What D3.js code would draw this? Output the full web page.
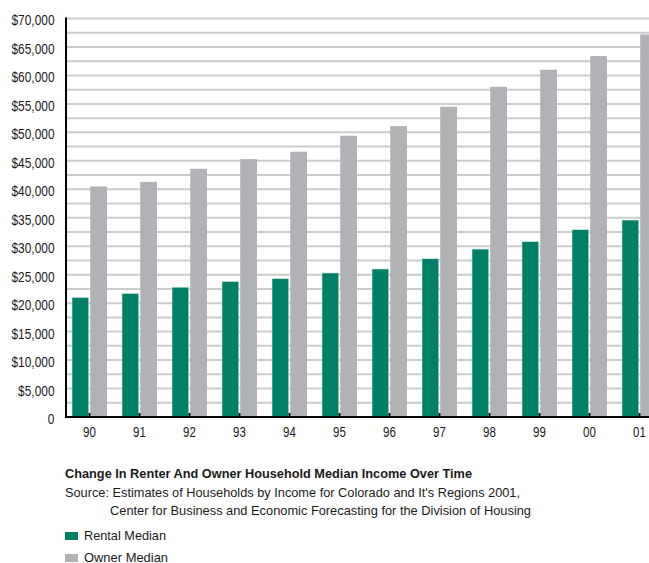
<!DOCTYPE html>
<html>
<head>
<meta charset="utf-8">
<script src="https://cdn.jsdelivr.net/npm/d3@7"></script>
<style>
  html, body { margin: 0; padding: 0; background: #fff; }
  svg { display: block; }
  text { font-family: "Liberation Sans", Arial, sans-serif; fill: #1a1a1a; }
</style>
</head>
<body>
<svg id="chart" width="649" height="563"></svg>
<script>
// Median household income, Colorado, 1990–2001
const years = ["90", "91", "92", "93", "94", "95", "96", "97", "98", "99", "00", "01"];
const rentalMedian = [21000, 21700, 22800, 23800, 24300, 25300, 26000, 27800, 29500, 30800, 32900, 34600];
const ownerMedian  = [40500, 41300, 43600, 45300, 46600, 49400, 51100, 54500, 58000, 61000, 63400, 67200];
const yTicks = [0, 5000, 10000, 15000, 20000, 25000, 30000, 35000, 40000, 45000, 50000, 55000, 60000, 65000, 70000];
const gridValues = d3.range(2500, 70001, 2500);
const seriesNames = ["Rental Median", "Owner Median"];
const seriesColors = ["#007f67", "#b1b2b6"];

const titleText = "Change In Renter And Owner Household Median Income Over Time";
const sourceLines = [
  "Source: Estimates of Households by Income for Colorado and It's Regions 2001,",
  "Center for Business and Economic Forecasting for the Division of Housing"
];

const svg = d3.select("#chart");
const W = 649;
const axisX = 66, plotTop = 18.5, base = 417;

// squeeze a text element horizontally (condensed face look)
function condense(sel, factor) {
  sel.each(function () {
    const w = this.getComputedTextLength();
    d3.select(this).attr("textLength", w * factor).attr("lengthAdjust", "spacingAndGlyphs");
  });
}
function fitWidth(sel, width) {
  sel.attr("textLength", width).attr("lengthAdjust", "spacingAndGlyphs");
}

const y = d3.scaleLinear().domain([0, 70000]).range([base, plotTop]);
const x = d3.scaleBand().domain(years).range([64.5, 664.5]).paddingInner(0.3).paddingOuter(0.15);
const xs = d3.scaleBand().domain(["rental", "owner"]).range([0, x.bandwidth()]).paddingInner(0.08);

const rows = years.map((yr, i) => ({ year: yr, rental: rentalMedian[i], owner: ownerMedian[i] }));

// horizontal grid
svg.append("g")
  .selectAll("line")
  .data(gridValues)
  .join("line")
  .attr("x1", axisX).attr("x2", W)
  .attr("y1", d => y(d)).attr("y2", d => y(d))
  .attr("stroke", "#cbcbcb")
  .attr("stroke-width", 2);

// bars
const groups = svg.append("g")
  .selectAll("g")
  .data(rows)
  .join("g")
  .attr("transform", d => `translate(${x(d.year)},0)`);

groups.append("rect")
  .attr("x", xs("rental"))
  .attr("width", xs.bandwidth())
  .attr("y", d => y(d.rental))
  .attr("height", d => base - y(d.rental))
  .attr("fill", seriesColors[0])
  .attr("stroke", "#cfe9df")
  .attr("stroke-width", 0.6);

groups.append("rect")
  .attr("x", xs("owner"))
  .attr("width", xs.bandwidth())
  .attr("y", d => y(d.owner))
  .attr("height", d => base - y(d.owner))
  .attr("fill", seriesColors[1]);

// y axis labels
const yAxis = d3.axisLeft(y)
  .tickValues(yTicks)
  .tickSize(0)
  .tickPadding(0)
  .tickFormat(d => d === 0 ? "0" : "$" + d3.format(",")(d));
const gy = svg.append("g")
  .attr("transform", `translate(${axisX - 11.5},2)`)
  .call(yAxis);
gy.select(".domain").remove();
gy.selectAll("text")
  .attr("font-family", null)
  .style("font-size", "14px")
  .attr("fill", "#1a1a1a")
  .call(condense, 0.85);

// x axis labels and inner ticks
const xAxis = d3.axisBottom(x).tickSize(0).tickPadding(0);
const gx = svg.append("g")
  .attr("transform", `translate(0,${base + 10})`)
  .call(xAxis);
gx.select(".domain").remove();
gx.selectAll("text")
  .attr("font-family", null)
  .attr("dy", "0.71em")
  .style("font-size", "14px")
  .attr("fill", "#1a1a1a")
  .call(condense, 0.82);

svg.append("g")
  .selectAll("line")
  .data(years)
  .join("line")
  .attr("x1", d => x(d) + x.bandwidth() / 2)
  .attr("x2", d => x(d) + x.bandwidth() / 2)
  .attr("y1", base - 4).attr("y2", base)
  .attr("stroke", "#000")
  .attr("stroke-width", 2);

// axis lines
svg.append("line")
  .attr("x1", axisX).attr("x2", axisX)
  .attr("y1", plotTop - 1).attr("y2", base + 1)
  .attr("stroke", "#000").attr("stroke-width", 2);
svg.append("line")
  .attr("x1", axisX - 1).attr("x2", W)
  .attr("y1", base).attr("y2", base)
  .attr("stroke", "#000").attr("stroke-width", 2);

// caption
svg.append("text")
  .attr("x", 65).attr("y", 478)
  .style("font-size", "13.5px")
  .style("font-weight", "bold")
  .text(titleText)
  .call(fitWidth, 407);
svg.append("text")
  .attr("x", 65).attr("y", 497)
  .style("font-size", "13.5px")
  .text(sourceLines[0])
  .call(fitWidth, 455);
svg.append("text")
  .attr("x", 110).attr("y", 515)
  .style("font-size", "13.5px")
  .text(sourceLines[1])
  .call(fitWidth, 421);

// legend
const legendWidths = [82, 84];
const legend = svg.append("g")
  .selectAll("g")
  .data(seriesNames)
  .join("g")
  .attr("transform", (d, i) => `translate(65,${532 + i * 22})`);
legend.append("rect")
  .attr("width", 13).attr("height", 8)
  .attr("fill", (d, i) => seriesColors[i]);
legend.append("text")
  .attr("x", 19).attr("y", 7.5)
  .style("font-size", "13.5px")
  .text(d => d)
  .each(function (d, i) { d3.select(this).call(fitWidth, legendWidths[i]); });
</script>
</body>
</html>
